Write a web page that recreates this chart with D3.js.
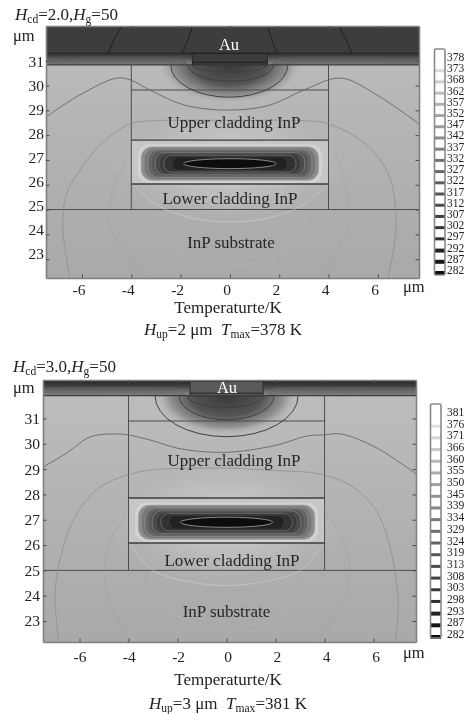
<!DOCTYPE html>
<html><head><meta charset="utf-8">
<script src="https://cdn.jsdelivr.net/npm/d3@7"></script>
<style>html,body{margin:0;padding:0;background:#fff}svg{display:block}text{font-family:"Liberation Serif",serif;fill:#222}</style>
</head><body><svg id="c" width="468" height="714"></svg>
<script>
// ---- shared categories / tick labels
const xTicks = [-6,-4,-2,0,2,4,6];
const yTicks = [31,30,29,28,27,26,25,24,23];
const layerLabels = ["Au","Upper cladding InP","Lower cladding InP","InP substrate"];

// ---- top panel: values in micrometres and kelvin
const topTemps = [378,373,368,362,357,352,347,342,337,332,327,322,317,312,307,302,297,292,287,282];
const topXDomain = [-7.46,7.67];
const topYDomain = [22.24,32.4];
const topLayers = {stripTop:31.3, stripBottom:30.83, upper:29.82, coreTop:27.8, coreBottom:26.03, substrate:25, auHalf:1.52, coreCentre:26.85};
const topContourA = [[-7.46,28.73],[-6.09,29.62],[-4.58,30.30],[-4.02,30.22],[-3.25,29.82],[-1.83,29.21],[0,29.01],[1.62,29.21],[3.0,29.82],[4.5,30.30],[5.96,29.62],[7.67,28.45]];
const topContourB = [[-6.49,22.24],[-6.77,24.17],[-6.65,25.58],[-6.29,26.27],[-5.27,27.6],[-4.06,28.45],[-3.25,28.57],[0,28.6],[3.25,28.57],[4.02,28.45],[5.56,27.6],[6.49,26.27],[6.73,24.17],[6.41,22.24]];
const topContourCLeft = [[-3.37,22.24],[-4.87,24.3],[-4.79,25.58],[-4.14,27.2]];
const topContourCRight = [[4.22,27.4],[4.79,25.58],[4.79,24.3],[3.65,22.24]];
const topContourD = [[-3.9,26.0],[-3,25.2],[-1.5,24.65],[0,24.5],[1.5,24.65],[3,25.2],[3.9,26.0]];
const topContourE = [[-3.1,24.9],[-2.7,23.9],[-1.8,23.1],[0,22.75],[1.8,23.1],[2.8,23.9],[3.1,24.9]];
const topRidgeArcs = [[-1.5,1.5,30.53],[-1.7,1.76,30.17],[-2.4,2.35,29.53]];
const topAuArcs = [[[-4.94,31.3],[-4.7,31.85],[-4.38,32.4]],[[-1.93,31.3],[-1.7,31.85],[-1.52,32.4]],[[1.92,31.3],[1.7,31.85],[1.52,32.4]],[[4.94,31.3],[4.7,31.85],[4.42,32.4]]];

// ---- bottom panel
const botTemps = [381,376,371,366,360,355,350,345,339,334,329,324,319,313,308,303,298,293,287,282];
const botXDomain = [-7.49,7.73];
const botYDomain = [22.17,32.52];
const botLayers = {stripTop:32.52, stripBottom:31.9, upper:30.9, coreTop:27.86, coreBottom:26.08, substrate:25, auHalf:1.49, coreCentre:26.9};
const botContourA = [[-7.49,29.08],[-6.51,29.64],[-5.57,30.27],[-4.47,30.39],[-4.02,30.35],[-3.12,30.15],[-2.02,29.83],[-0.8,29.68],[0.31,29.68],[2.06,29.95],[3.29,30.31],[3.98,30.35],[4.67,30.39],[6.14,29.83],[7.73,28.81]];
const botContourB = [[-6.84,22.17],[-7,23.95],[-6.8,25.41],[-6.1,27.26],[-5.16,28.29],[-4.02,28.77],[-3.12,28.96],[0,29.04],[1.65,28.96],[3.98,28.77],[5.33,28.17],[6.31,26.99],[7,23.95],[6.88,22.17]];
const botContourCLeft = [[-4.02,22.17],[-4.92,24.22],[-4.88,25.8],[-4.02,27.38]];
const botContourCRight = [[3.98,27.38],[4.92,25.8],[4.92,24.22],[3.69,22.17]];
const botContourD = [[-3.9,26.0],[-3,25.0],[-1.5,24.55],[0,24.4],[1.5,24.55],[3,25.0],[3.9,26.0]];
const botContourE = [[-3.1,24.9],[-2.8,23.9],[-1.8,23.1],[0,22.75],[1.8,23.1],[2.8,23.9],[3.1,24.9]];
const botRidgeArcs = [[-1.6,1.49,31.43],[-1.94,1.94,30.95],[-2.92,2.92,30.28]];
const botAuArcs = [];

// ---- heat source contour levels: half width, half height (um), temperature (K)
const coreHalfW = [3.74,3.6,3.46,3.32,3.18,3.03,2.86,2.68,2.35,1.88];
const coreHalfH = [0.78,0.68,0.62,0.56,0.5,0.45,0.39,0.34,0.27,0.2];
const coreTemp  = [292,322,332,340,346,352,358,363,369,377];
const stripLevels = [0.30,0.21,0.13,0.07];

const svg = d3.select("#c");
const defs = svg.append("defs");
defs.append("filter").attr("id","soft").attr("x","-5%").attr("y","-5%").attr("width","110%").attr("height","110%")
  .append("feGaussianBlur").attr("stdDeviation",0.5);
const root = svg.append("g").attr("filter","url(#soft)");

const coreGray = d3.scaleLinear().domain([292,322,345,378]).range(["#d2d2d2","#8c8c8c","#595959","#0e0e0e"]);
const barGray = d3.scaleLinear().domain([282,300,330,378]).range(["#0c0c0c","#333333","#6e6e6e","#e6e6e6"]);

function rich(g,x,y,parts,size,anchor){
  const t=g.append("text").attr("x",x).attr("y",y).attr("font-size",size).attr("text-anchor",anchor||"start");
  parts.forEach(p=>{
    const s=t.append("tspan").text(p.t);
    if(p.i) s.attr("font-style","italic");
    if(p.sub) s.attr("font-size",size*0.68).attr("dy",2.5);
    if(p.up) s.attr("dy",-2.5);
  });
  return t;
}

function panel(o){
  const id=o.id, L=o.layers;
  const x=d3.scaleLinear().domain(o.xDomain).range(o.xRange);
  const y=d3.scaleLinear().domain(o.yDomain).range(o.yRange);
  const g=root.append("g");
  const clipId="clip"+id;
  defs.append("clipPath").attr("id",clipId).append("rect")
    .attr("x",o.xRange[0]).attr("y",o.yRange[1]).attr("width",o.xRange[1]-o.xRange[0]).attr("height",o.yRange[0]-o.yRange[1]);

  // gradients
  const bg=defs.append("linearGradient").attr("id","bg"+id).attr("x1",0).attr("x2",0).attr("y1",0).attr("y2",1);
  bg.append("stop").attr("offset","0%").attr("stop-color","#bebebe");
  bg.append("stop").attr("offset","60%").attr("stop-color","#b0b0b0");
  bg.append("stop").attr("offset","100%").attr("stop-color","#a9a9a9");
  const strip=defs.append("linearGradient").attr("id","strip"+id).attr("x1",0).attr("x2",0).attr("y1",0).attr("y2",1);
  o.stripStops.forEach(s=>strip.append("stop").attr("offset",s[0]).attr("stop-color",s[1]));
  const glow=defs.append("radialGradient").attr("id","glow"+id);
  glow.append("stop").attr("offset","0%").attr("stop-color","#d6d6d6").attr("stop-opacity",.9);
  glow.append("stop").attr("offset","60%").attr("stop-color","#c4c4c4").attr("stop-opacity",.5);
  glow.append("stop").attr("offset","100%").attr("stop-color","#b4b4b4").attr("stop-opacity",0);
  const hot=defs.append("radialGradient").attr("id","hot"+id);
  hot.append("stop").attr("offset","0%").attr("stop-color","#383838");
  hot.append("stop").attr("offset","52%").attr("stop-color","#555555");
  hot.append("stop").attr("offset","80%").attr("stop-color","#8a8a8a").attr("stop-opacity",.85);
  hot.append("stop").attr("offset","100%").attr("stop-color","#b8b8b8").attr("stop-opacity",0);

  const body=g.append("g").attr("clip-path",`url(#${clipId})`);
  const xa=o.xDomain[0], xb=o.xDomain[1], ya=o.yDomain[0], yb=o.yDomain[1];
  const box=(sel,x0,x1,y1,y0)=>sel.append("rect").attr("x",x(x0)).attr("width",x(x1)-x(x0)).attr("y",y(y1)).attr("height",y(y0)-y(y1));
  box(body,xa,xb,yb,ya).attr("fill",`url(#bg${id})`);
  // warm halo round the heat source
  body.append("ellipse").attr("cx",x(0)).attr("cy",y(L.coreCentre)).attr("rx",x(5)-x(0)).attr("ry",y(24.3)-y(L.coreCentre)).attr("fill",`url(#glow${id})`);
  // heated area under the ridge
  body.append("ellipse").attr("cx",x(0)).attr("cy",y(L.stripBottom)).attr("rx",x(2.9)-x(0)).attr("ry",y(L.stripBottom-1.55)-y(L.stripBottom)).attr("fill",`url(#hot${id})`);
  // metal + strip
  box(body,xa,xb,yb,L.stripTop).attr("fill",o.auFill);
  box(body,xa,xb,L.stripTop,L.stripBottom).attr("fill",`url(#strip${id})`);
  // ridge contacts
  box(body,-L.auHalf,L.auHalf,yb,L.stripBottom).attr("fill",o.auFill);
  box(body,-L.auHalf,L.auHalf,L.stripTop-o.ridgeStep,L.stripBottom).attr("fill",o.ridgeFill).attr("stroke","#2b2b2b").attr("stroke-width",1);
  body.append("line").attr("x1",x(-L.auHalf)).attr("x2",x(L.auHalf)).attr("y1",y(L.stripBottom+.1)).attr("y2",y(L.stripBottom+.1)).attr("stroke","#222").attr("stroke-width",1);

  // contour lines bending into the ridge
  const curve=d3.line().x(d=>x(d[0])).y(d=>y(d[1])).curve(d3.curveCatmullRom.alpha(.5));
  const stripH=L.stripBottom;
  stripLevels.forEach(l=>{
    const yy=stripH+l;
    const hw=L.auHalf;
    const sideL=[[xa,yy],[-hw-.85,yy],[-hw-.5,yy-.02],[-hw-.18,stripH]];
    const sideR=[[hw+.18,stripH],[hw+.5,yy-.02],[hw+.85,yy],[xb,yy]];
    [sideL,sideR].forEach(s=>body.append("path").attr("d",curve(s)).attr("fill","none").attr("stroke",o.stripLine).attr("stroke-width",.8));
  });
  body.append("line").attr("x1",x(xa)).attr("x2",x(xb)).attr("y1",y(L.stripTop)).attr("y2",y(L.stripTop)).attr("stroke","#232323").attr("stroke-width",1);
  body.append("line").attr("x1",x(xa)).attr("x2",x(xb)).attr("y1",y(L.stripBottom)).attr("y2",y(L.stripBottom)).attr("stroke","#3a3a3a").attr("stroke-width",1.3);

  // heat source
  box(body,-4,4,L.coreTop,L.coreBottom).attr("fill","#c6c6c6");
  coreHalfW.forEach((hw,i)=>{
    const px=x(hw)-x(0), py=y(L.coreCentre-coreHalfH[i])-y(L.coreCentre);
    const last=i===coreHalfW.length-1;
    const r=last?px:py*(.6+.4*i/(coreHalfW.length-1));
    body.append("rect").attr("x",x(-hw)).attr("width",2*px)
      .attr("y",y(L.coreCentre)-py).attr("height",2*py)
      .attr("rx",r).attr("ry",last?py:r)
      .attr("fill",coreGray(coreTemp[i]))
      .attr("stroke",i===0?"none":"#a8a8a8")
      .attr("stroke-opacity",last?.85:(i%2?.6:.2)).attr("stroke-width",last?.9:.7);
  });

  // structure lines
  const seg=(x0,y0,x1,y1,w,c)=>body.append("line").attr("x1",x(x0)).attr("y1",y(y0)).attr("x2",x(x1)).attr("y2",y(y1)).attr("stroke",c||"#4d4d4d").attr("stroke-width",w);
  seg(xa,L.substrate,xb,L.substrate,1);
  seg(-4,L.stripBottom,-4,L.substrate,1);
  seg(4,L.stripBottom,4,L.substrate,1);
  seg(-4,L.upper,4,L.upper,1.1);
  seg(-4,L.coreTop,4,L.coreTop,1.4,"#3c3c3c");
  seg(-4,L.coreBottom,4,L.coreBottom,1.4,"#3c3c3c");

  // contours
  const c=(pts,col,w,dash,op)=>{const p=body.append("path").attr("d",curve(pts)).attr("fill","none").attr("stroke",col).attr("stroke-width",w).attr("stroke-opacity",op||1);if(dash)p.attr("stroke-dasharray",dash);};
  c(o.contourA,"#666666",.9);
  c(o.contourB,"#8a8a8a",.7);
  c(o.contourCLeft,"#929292",.6,"2 2");
  c(o.contourCRight,"#929292",.6,"2 2");
  c(o.contourD,"#d8d8d8",.7,null,.7);
  c(o.contourE,"#c6c6c6",.6,"3 2",.55);
  o.ridgeArcs.forEach(a=>{
    const rx=(x(a[1])-x(a[0]))/2, ry=y(a[2])-y(stripH);
    body.append("path").attr("d",`M${x(a[0])},${y(stripH)}A${rx},${ry} 0 0 0 ${x(a[1])},${y(stripH)}`)
      .attr("fill","none").attr("stroke","#3f3f3f").attr("stroke-width",1);
  });
  o.auArcs.forEach(a=>c(a,"#1d1d1d",1));

  // frame + inward ticks, one axis per side
  const ticks=(axis,tr)=>{
    const a=g.append("g").attr("transform",tr).call(axis);
    a.selectAll("text").remove();
    a.select(".domain").attr("stroke","#7f7f7f").attr("stroke-width",1.6);
    a.selectAll(".tick line").attr("stroke","#4c4c4c").attr("stroke-width",1);
  };
  ticks(d3.axisBottom(x).tickValues(xTicks).tickSizeOuter(0).tickSizeInner(-3.5),`translate(0,${o.yRange[0]})`);
  ticks(d3.axisTop(x).tickValues(xTicks).tickSizeOuter(0).tickSizeInner(-3.5),`translate(0,${o.yRange[1]})`);
  ticks(d3.axisLeft(y).tickValues(yTicks).tickSizeOuter(0).tickSizeInner(-3.5),`translate(${o.xRange[0]},0)`);
  ticks(d3.axisRight(y).tickValues(yTicks).tickSizeOuter(0).tickSizeInner(-3.5),`translate(${o.xRange[1]},0)`);

  // tick labels
  const lx=d3.scaleLinear().domain([-6,6]).range(o.xLabelRange);
  const ly=d3.scaleLinear().domain([31,23]).range(o.yLabelRange);
  g.selectAll(null).data(xTicks).join("text").attr("x",d=>lx(d)).attr("y",o.xLabelY).attr("font-size",15.5).attr("text-anchor","middle").text(d=>d);
  g.selectAll(null).data(yTicks).join("text").attr("x",o.yLabelX).attr("y",d=>ly(d)+5).attr("font-size",15.5).attr("text-anchor","end").text(d=>d);

  // layer names
  const names=o.nameAt;
  layerLabels.forEach((n,i)=>{
    g.append("text").attr("x",names[i][0]).attr("y",names[i][1]).attr("font-size",i?17:16.5).attr("text-anchor","middle")
      .style("fill",i===0?"#fff":"#262626").text(n);
  });

  // titles
  rich(g,o.titleX,o.titleY,[{t:"H",i:1},{t:"cd",sub:1},{t:"="+o.hcd+",",up:1},{t:"H",i:1},{t:"g",sub:1},{t:"=50",up:1}],17);
  g.append("text").attr("x",o.umY[0]).attr("y",o.umY[1]).attr("font-size",16.5).text("μm");
  g.append("text").attr("x",o.umX[0]).attr("y",o.umX[1]).attr("font-size",16.5).text("μm");
  g.append("text").attr("x",o.axisTitle[0]).attr("y",o.axisTitle[1]).attr("font-size",17).attr("text-anchor","middle").text("Temperaturte/K");
  rich(g,o.capX,o.capY,[{t:"H",i:1},{t:"up",sub:1},{t:"="+o.hup+" μm\u00a0\u00a0",up:1},{t:"T",i:1},{t:"max",sub:1},{t:"="+o.tmax+" K",up:1}],17);

  // colour bar
  const by=d3.scalePoint().domain(o.temps).range(o.barLabelRange);
  const b=g.append("g");
  b.append("rect").attr("x",o.barX[0]).attr("y",o.barY[0]).attr("width",o.barX[1]-o.barX[0]).attr("height",o.barY[1]-o.barY[0]).attr("rx",1.5).attr("fill","#fff");
  b.selectAll(null).data(o.temps.slice(1)).join("rect")
    .attr("x",o.barX[0]).attr("width",o.barX[1]-o.barX[0])
    .attr("y",d=>by(d)+1).attr("height",(d,i)=>i>15?4:3).attr("fill",d=>barGray(d));
  b.append("rect").attr("x",o.barX[0]).attr("y",o.barY[0]).attr("width",o.barX[1]-o.barX[0]).attr("height",o.barY[1]-o.barY[0]).attr("rx",1.5).attr("fill","none").attr("stroke","#8a8a8a").attr("stroke-width",1.6);
  b.selectAll(null).data(o.temps).join("text").attr("x",o.barLabelX).attr("y",d=>by(d)+4).attr("font-size",11.5).text(d=>d);
}

panel({id:"a",layers:topLayers,temps:topTemps,xDomain:topXDomain,yDomain:topYDomain,xRange:[46,419],yRange:[278,26],
  contourA:topContourA,contourB:topContourB,contourCLeft:topContourCLeft,contourCRight:topContourCRight,contourD:topContourD,contourE:topContourE,
  ridgeArcs:topRidgeArcs,auArcs:topAuArcs,auFill:"#3d3d3d",ridgeFill:"#3b3b3b",ridgeStep:0,stripLine:"#5f5f5f",
  stripStops:[["0%","#303030"],["35%","#4a4a4a"],["70%","#6e6e6e"],["100%","#8c8c8c"]],
  xLabelRange:[79,375],xLabelY:295,yLabelRange:[62,253.5],yLabelX:44,
  nameAt:[[229,50],[234,128],[230,204],[231,248]],hcd:"2.0",titleX:15,titleY:20,umY:[13,41],umX:[403,292],axisTitle:[228,313],capX:144,capY:335,hup:2,tmax:378,
  barX:[434.5,445],barY:[49,275],barLabelRange:[57,270],barLabelX:447});

panel({id:"b",layers:botLayers,temps:botTemps,xDomain:botXDomain,yDomain:botYDomain,xRange:[43,416],yRange:[642,380],
  contourA:botContourA,contourB:botContourB,contourCLeft:botContourCLeft,contourCRight:botContourCRight,contourD:botContourD,contourE:botContourE,
  ridgeArcs:botRidgeArcs,auArcs:botAuArcs,auFill:"#2d2d2d",ridgeFill:"#5a5a5a",ridgeStep:0.06,stripLine:"#6a6a6a",
  stripStops:[["0%","#222222"],["35%","#3c3c3c"],["70%","#6a6a6a"],["100%","#8f8f8f"]],
  xLabelRange:[80,376],xLabelY:662,yLabelRange:[419,621],yLabelX:40,
  nameAt:[[227,393],[234,466],[232,566],[226.5,617]],hcd:"3.0",titleX:13,titleY:372,umY:[13,393],umX:[403,658],axisTitle:[228,685],capX:149,capY:709,hup:3,tmax:381,
  barX:[430.5,441],barY:[404,638],barLabelRange:[412,634],barLabelX:447});
</script></body></html>
